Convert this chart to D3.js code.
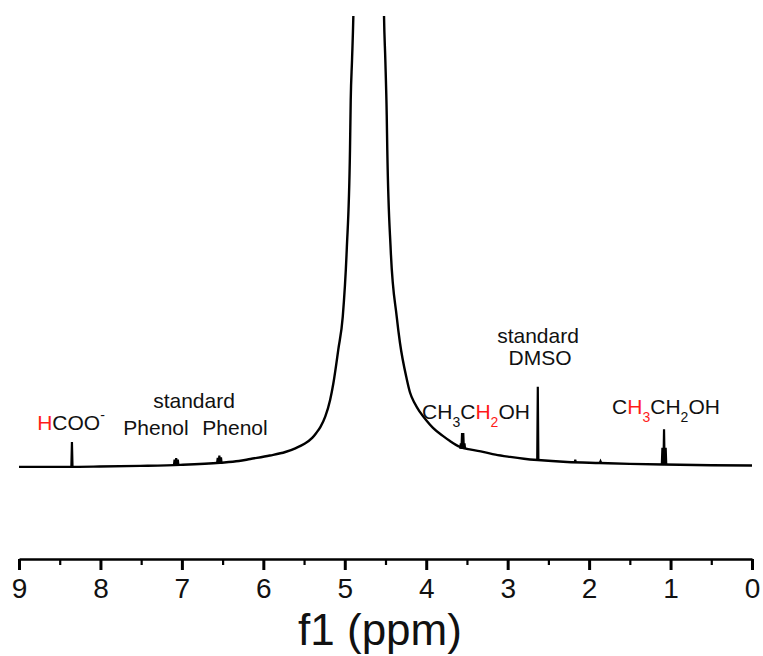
<!DOCTYPE html>
<html>
<head>
<meta charset="utf-8">
<script src="https://cdn.jsdelivr.net/npm/d3@7"></script>
<style>
  html, body { margin: 0; padding: 0; background: #fff; }
  svg { display: block; font-family: "Liberation Sans", Arial, sans-serif; }
</style>
</head>
<body>
<svg id="chart" width="763" height="656"></svg>
<script>
// 1H NMR spectrum, chemical shift in ppm (axis runs 9 -> 0)
const majorTicks = [9, 8, 7, 6, 5, 4, 3, 2, 1, 0];
const minorTicks = [8.5, 7.5, 6.5, 5.5, 4.5, 3.5, 2.5, 1.5, 0.5];
const axisTitle = "f1 (ppm)";

// Broad trace: baseline plus the solvent (HDO) signal, which runs off scale
const spectrumPpm = [9.00, 8.70, 8.40, 8.01, 7.51, 7.02, 6.53, 6.30, 6.16, 5.92, 5.73,
  5.60, 5.50, 5.40, 5.35, 5.30, 5.24, 5.18, 5.14, 5.08, 5.025, 4.976, 4.936, 4.927,
  4.911, 4.895, 4.88, 4.84, 4.71, 4.56, 4.53, 4.518, 4.502, 4.485, 4.478, 4.436,
  4.362, 4.322, 4.24, 4.20, 4.14, 4.08, 4.00, 3.917, 3.80, 3.708, 3.585, 3.45, 3.303,
  3.15, 2.97, 2.80, 2.63, 2.27, 1.866, 1.50, 1.08, 0.50, 0.00];
const spectrumIntensity = [0.0, 0.0, 0.0, 0.07, 0.22, 0.44, 0.89, 1.28, 1.73, 2.5, 3.28,
  4.16, 5.05, 6.4, 7.5, 8.8, 11.1, 14.8, 18.5, 25.9, 33.2, 48.0, 70.1, 81.2,
  90.0, 99.6, 115, 170, 600, 170, 115, 99.6, 90.0, 77.9, 70.1, 48.0,
  33.2, 27.4, 19.5, 16.5, 14.0, 12.2, 10.3, 8.6, 6.9, 5.7, 4.4, 3.8, 3.3,
  2.7, 2.2, 1.8, 1.5, 1.06, 0.84, 0.65, 0.5, 0.35, 0.3];

// Sharp resonances: line positions (ppm), line tops and the base level they sit on
const formatePpm = [8.35];            const formateTop = [5.5];        const formateBase = 0.0;
const phenolAPpm = [7.09, 7.07, 7.05]; const phenolATop = [1.6, 1.95, 1.6]; const phenolABase = 0.42;
const phenolBPpm = [6.56, 6.54, 6.52]; const phenolBTop = [2.0, 2.46, 2.1]; const phenolBBase = 0.92;
const ch2Ppm = [3.575, 3.56, 3.545, 3.53]; const ch2Top = [5.2, 7.5, 7.5, 5.2]; const ch2Base = 4.0;
const dmsoPpm = [2.63];               const dmsoTop = [17.7];          const dmsoBase = 1.5;
const smallPpm = [2.17, 1.86];        const smallTop = [1.6, 1.2];     const smallBase = 0.9;
const ch3Ppm = [1.10, 1.08, 1.06];    const ch3Top = [4.2, 8.3, 4.2];   const ch3Base = 0.5;

const svg = d3.select("#chart");
const x = d3.scaleLinear().domain([9, 0]).range([19, 752]);
const y = d3.scaleLinear().domain([-20.4, 100]).range([559, 15]);

svg.append("defs").append("clipPath").attr("id", "plot-clip")
  .append("rect").attr("x", 0).attr("y", 16).attr("width", 763).attr("height", 540);

const plot = svg.append("g").attr("clip-path", "url(#plot-clip)");

const trace = spectrumPpm.map((p, i) => [p, spectrumIntensity[i]]);
const line = d3.line().x(d => x(d[0])).y(d => y(d[1])).curve(d3.curveMonotoneX);

plot.append("path")
  .attr("d", line(trace))
  .attr("fill", "none")
  .attr("stroke", "#000")
  .attr("stroke-width", 2.4)
  .attr("stroke-linejoin", "round");

// Each sharp line drawn as a narrow spike from its base level
const groups = [
  [formatePpm, formateTop, formateBase],
  [phenolAPpm, phenolATop, phenolABase],
  [phenolBPpm, phenolBTop, phenolBBase],
  [ch2Ppm, ch2Top, ch2Base],
  [dmsoPpm, dmsoTop, dmsoBase],
  [smallPpm, smallTop, smallBase],
  [ch3Ppm, ch3Top, ch3Base]
];
const spike = d3.line().x(d => x(d[0])).y(d => y(d[1]));
groups.forEach(([ppms, tops, base]) => {
  ppms.forEach((p, i) => {
    plot.append("path")
      .attr("d", spike([[p + 0.007, base], [p, tops[i]], [p - 0.007, base]]))
      .attr("fill", "none")
      .attr("stroke", "#000")
      .attr("stroke-width", 2.2)
      .attr("stroke-linejoin", "miter");
  });
});

// Axis: major ticks with labels, minor half-ppm ticks
const axisG = svg.append("g").attr("transform", `translate(0,${y(-20.4)})`);
axisG.call(d3.axisBottom(x).tickValues(majorTicks).tickFormat(d3.format("d"))
  .tickSize(11).tickSizeOuter(0).tickPadding(8));
axisG.select(".domain").attr("stroke", "#000").attr("stroke-width", 2.6);
axisG.selectAll(".tick line").attr("stroke", "#000").attr("stroke-width", 3);
axisG.selectAll(".tick text")
  .attr("font-family", "'Liberation Sans', Arial, sans-serif")
  .attr("font-size", 28).attr("fill", "#111");

const minorG = svg.append("g").attr("transform", `translate(0,${y(-20.4)})`);
minorG.call(d3.axisBottom(x).tickValues(minorTicks).tickFormat("").tickSize(6).tickSizeOuter(0));
minorG.select(".domain").remove();
minorG.selectAll(".tick line").attr("stroke", "#000").attr("stroke-width", 2.2);

svg.append("text")
  .attr("x", 380).attr("y", 645)
  .attr("text-anchor", "middle")
  .attr("font-size", 44).attr("fill", "#111")
  .text(axisTitle);

// Peak annotations
const red = "#ff1a1a";
const ink = "#111";
const labelSize = 21;
function label(xc, yb, parts) {
  const t = svg.append("text").attr("x", xc).attr("y", yb)
    .attr("text-anchor", "middle").attr("font-size", labelSize).attr("fill", ink);
  parts.forEach(p => {
    const s = t.append("tspan").text(p.t).attr("fill", p.c || ink);
    if (p.sub) s.attr("font-size", 14).attr("dy", 8);
    if (p.sup) s.attr("font-size", 14).attr("dy", -10);
    if (p.back) s.attr("dy", p.back);
  });
  return t;
}

label(71, 430, [{t: "H", c: red}, {t: "COO"}, {t: "-", sup: true}]);
label(194, 408, [{t: "standard"}]);
label(156, 435, [{t: "Phenol"}]);
label(235, 435, [{t: "Phenol"}]);
label(538, 343, [{t: "standard"}]);
label(540, 365, [{t: "DMSO"}]);
label(476, 419, [{t: "CH"}, {t: "3", sub: true}, {t: "C", back: -8}, {t: "H", c: red},
  {t: "2", c: red, sub: true}, {t: "OH", back: -8}]);
label(666, 414, [{t: "C"}, {t: "H", c: red}, {t: "3", c: red, sub: true}, {t: "CH", back: -8},
  {t: "2", sub: true}, {t: "OH", back: -8}]);
</script>
</body>
</html>
